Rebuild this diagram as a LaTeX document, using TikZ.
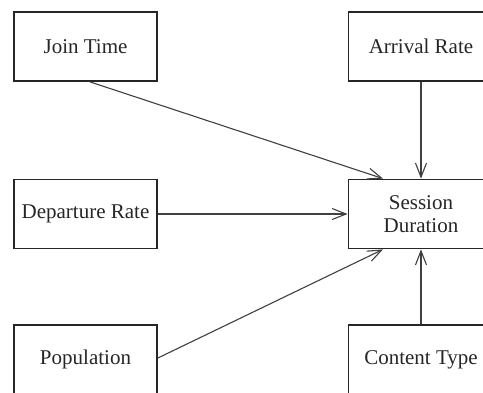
\documentclass[tikz,border=0pt]{standalone}
\usepackage{fontspec}
\setmainfont{Liberation Serif}
\usetikzlibrary{arrows.meta}
\begin{document}
\begin{tikzpicture}[x=1pt,y=1pt,
  box/.style={draw=black!85, line width=1.8pt, minimum width=143pt, minimum height=69pt,
    inner sep=0pt, align=center, font=\fontsize{21}{23}\selectfont, text=black!85},
  link/.style={draw=black!75, line width=1.1pt, -{Straight Barb[length=14pt,width=11pt,line width=1.1pt]}}]
\useasboundingbox (0,0) rectangle (483,392);
\clip (0,0) rectangle (483,392);
\fill[white] (0,0) rectangle (483,392);
\node[box] (join) at (85.5,345.5) {Join Time};
\node[box, minimum width=145pt] (arr) at (421,345.5) {Arrival Rate};
\node[box] (dep) at (85.5,178) {Departure Rate};
\node[box, minimum width=145pt] (sess) at (421,178) {Session\\Duration};
\node[box] (pop) at (85.5,32.5) {Population};
\node[box, minimum width=145pt] (cont) at (421,32.5) {Content Type};
\draw[link] ([xshift=4.5pt]join.south) -- ([xshift=-38pt]sess.north);
\draw[link] (arr.south) -- (sess.north);
\draw[link] (dep.east) -- (sess.west);
\draw[link] ([yshift=1.5pt]pop.east) -- ([xshift=-38pt]sess.south);
\draw[link] (cont.north) -- (sess.south);
\end{tikzpicture}
\end{document}
